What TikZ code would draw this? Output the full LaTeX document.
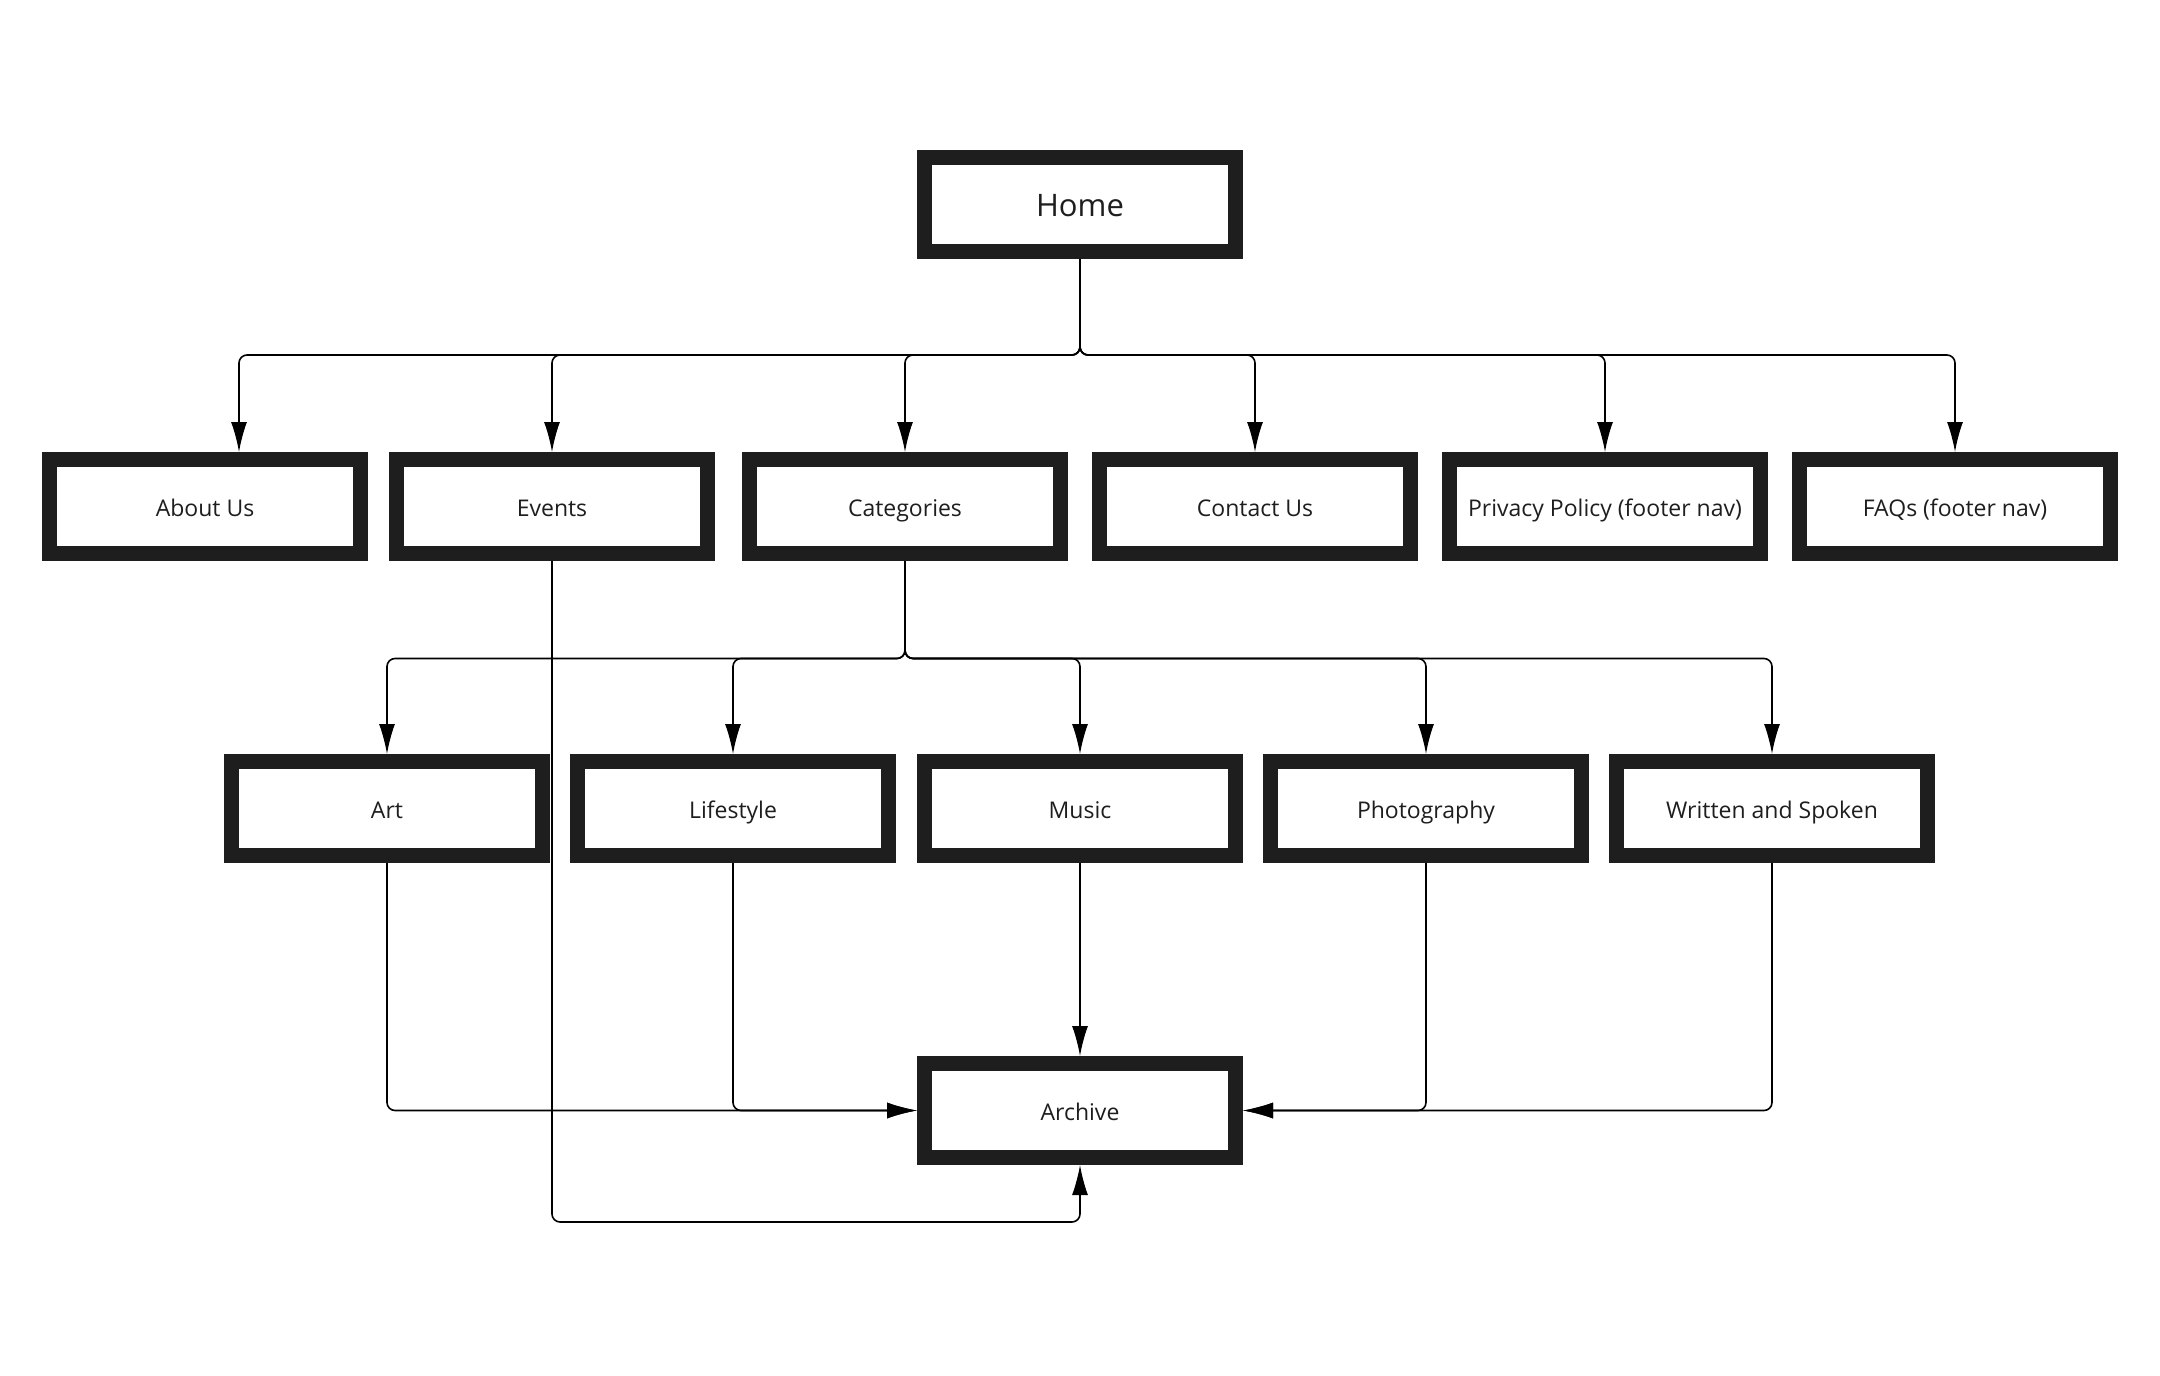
\documentclass[tikz,border=0pt]{standalone}
\usepackage{fontspec}
\setmainfont{Open Sans}
\usetikzlibrary{arrows.meta}
\definecolor{boxc}{HTML}{1E1E1E}
\begin{document}
\begin{tikzpicture}[x=0.5pt,y=-0.5pt,
  box/.style={draw=boxc, line width=7.5pt, fill=white, minimum width=155.5pt,
    minimum height=47pt, inner sep=0pt, text=boxc, font=\fontsize{11.5}{14}\selectfont,
    text height=1em, text depth=0pt},
  conn/.style={draw=black, line width=0.8pt, rounded corners=4pt,
    -{Latex[length=15pt,width=8pt]}}]
\useasboundingbox (0,0) rectangle (2160,1376);
\fill[white] (0,0) rectangle (2160,1376);
% nodes
\node[box, font=\fontsize{15.5}{18}\selectfont, text height=1.2em] (home) at (1080,204.5) {Home};
\node[box] (about)   at (205,506.5)  {About Us};
\node[box] (events)  at (552,506.5)  {Events};
\node[box] (cat)     at (905,506.5)  {Categories};
\node[box] (contact) at (1255,506.5) {Contact Us};
\node[box] (privacy) at (1605,506.5) {Privacy Policy (footer nav)};
\node[box] (faqs)    at (1955,506.5) {FAQs (footer nav)};
\node[box] (art)     at (387,808.5)  {Art};
\node[box] (life)    at (733,808.5)  {Lifestyle};
\node[box] (music)   at (1080,808.5) {Music};
\node[box] (photo)   at (1426,808.5) {Photography};
\node[box] (written) at (1772,808.5) {Written and Spoken};
\node[box] (archive) at (1080,1110.5) {Archive};
% buses
\coordinate (hb) at (1080,355);
\coordinate (cb) at (905,658.5);
\coordinate (eb) at (552,1222);
% Home connectors
\draw[conn] (home.south) -- (hb) -| ([xshift=17pt]about.north);
\draw[conn] (home.south) -- (hb) -| (events.north);
\draw[conn] (home.south) -- (hb) -| (cat.north);
\draw[conn] (home.south) -- (hb) -| (contact.north);
\draw[conn] (home.south) -- (hb) -| (privacy.north);
\draw[conn] (home.south) -- (hb) -| (faqs.north);
% Categories connectors
\draw[conn] (cat.south) -- (cb) -| (art.north);
\draw[conn] (cat.south) -- (cb) -| (life.north);
\draw[conn] (cat.south) -- (cb) -| (music.north);
\draw[conn] (cat.south) -- (cb) -| (photo.north);
\draw[conn] (cat.south) -- (cb) -| (written.north);
% Archive connectors
\draw[conn] (art.south) |- (archive.west);
\draw[conn] (life.south) |- (archive.west);
\draw[conn] (music.south) -- (archive.north);
\draw[conn] (photo.south) |- (archive.east);
\draw[conn] (written.south) |- (archive.east);
\draw[conn] (events.south) -- (eb) -| (archive.south);
\end{tikzpicture}
\end{document}
